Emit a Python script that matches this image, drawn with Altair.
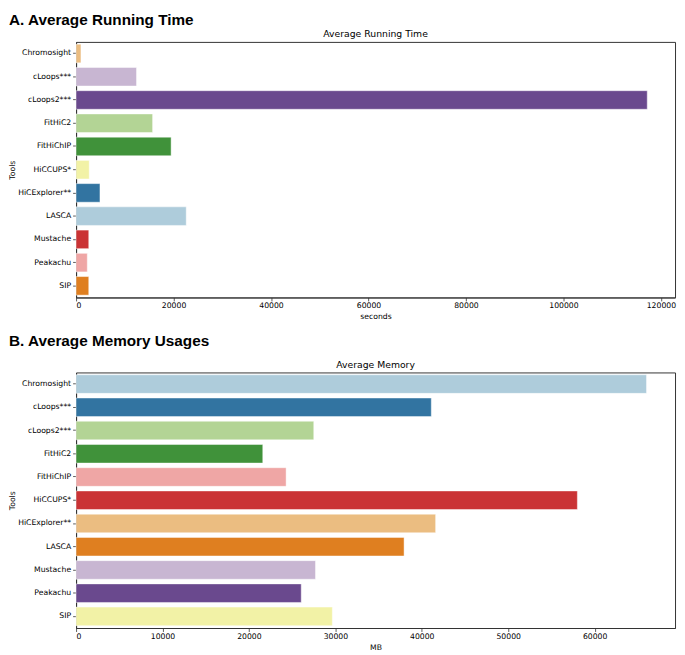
import altair as alt
import pandas as pd
import colorsys

tools = ["Chromosight", "cLoops***", "cLoops2***", "FitHiC2", "FitHiChIP",
         "HiCCUPS*", "HiCExplorer**", "LASCA", "Mustache", "Peakachu", "SIP"]

runtime_seconds = [1000, 12400, 117200, 15700, 19500, 2700, 4900, 22600, 2600, 2300, 2600]
memory_mb = [66000, 41100, 27500, 21600, 24300, 58000, 41600, 37950, 27700, 26050, 29650]

runtime_ticks = [0, 20000, 40000, 60000, 80000, 100000, 120000]
memory_ticks = [0, 10000, 20000, 30000, 40000, 50000, 60000]

# matplotlib "Paired" palette
P = {
    "lblue": "#a6cee3", "dblue": "#1f78b4", "lgreen": "#b2df8a", "green": "#33a02c",
    "pink": "#fb9a99", "red": "#e31a1c", "lorange": "#fdbf6f", "orange": "#ff7f00",
    "lpurple": "#cab2d6", "purple": "#6a3d9a", "yellow": "#ffff99",
}
runtime_colors = ["lorange", "lpurple", "purple", "lgreen", "green", "yellow",
                  "dblue", "lblue", "red", "pink", "orange"]
memory_colors = ["lblue", "dblue", "lgreen", "green", "pink", "red",
                 "lorange", "orange", "lpurple", "purple", "yellow"]


def desat(hexc, prop=0.75):
    r, g, b = [int(hexc[i:i + 2], 16) / 255 for i in (1, 3, 5)]
    h, l, s = colorsys.rgb_to_hls(r, g, b)
    r, g, b = colorsys.hls_to_rgb(h, l, s * prop)
    return "#%02x%02x%02x" % tuple(round(v * 255) for v in (r, g, b))


FONT = "DejaVu Sans"
W, H = 607, 259


def panel(values, cols, heading, title, xtitle, xmax, ticks, heading_y):
    df = pd.DataFrame({"Tools": tools, "value": values,
                       "color": [desat(P[c]) for c in cols]})
    bars = alt.Chart(df).mark_bar(stroke="white", strokeWidth=1, strokeOpacity=0.45).encode(
        y=alt.Y("Tools:N", sort=tools,
                scale=alt.Scale(paddingInner=0.2, paddingOuter=0.1),
                axis=alt.Axis(title="Tools", titlePadding=1, labelPadding=2)),
        x=alt.X("value:Q",
                scale=alt.Scale(domain=[0, xmax], nice=False, zero=True),
                axis=alt.Axis(values=ticks, format="d", title=xtitle, titlePadding=3,
                              labelPadding=1)),
        color=alt.Color("color:N", scale=None, legend=None),
    )
    head = alt.Chart(pd.DataFrame({"h": [heading]})).mark_text(
        align="left", baseline="top", font="Liberation Sans", fontWeight="bold",
        fontSize=15.5, color="black"
    ).encode(x=alt.value(-68), y=alt.value(heading_y), text="h:N")
    ttl = alt.Chart(pd.DataFrame({"t": [title]})).mark_text(
        align="center", baseline="bottom", font=FONT, fontSize=9.4, color="black"
    ).encode(x=alt.value(W / 2), y=alt.value(-3), text="t:N")
    return alt.layer(bars, head, ttl).properties(width=W, height=H)


pa = panel(runtime_seconds, runtime_colors, "A. Average Running Time",
           "Average Running Time", "seconds", 122900, runtime_ticks, -29)
pb = panel(memory_mb, memory_colors, "B. Average Memory Usages",
           "Average Memory", "MB", 69300, memory_ticks, -39)

chart = alt.vconcat(pa, pb, spacing=12).properties(padding=0).configure_view(
    stroke="#333333", strokeWidth=1
).configure_axis(
    grid=False, domainColor="#333333", domainWidth=1, tickColor="#333333",
    tickSize=3.5, tickWidth=0.8, labelFont=FONT, labelFontSize=7.8, labelColor="black",
    titleFont=FONT, titleFontSize=7.8, titleFontWeight="normal",
    titleColor="black",
)

chart.save("out.html", embed_options={"renderer": "svg", "actions": False})
